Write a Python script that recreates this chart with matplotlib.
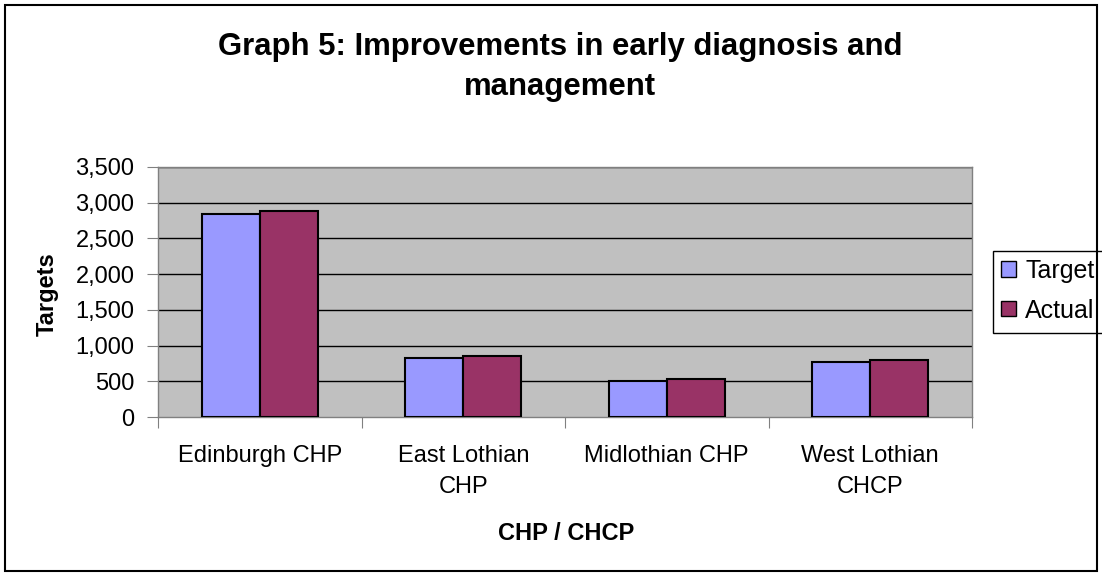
import matplotlib
matplotlib.use("Agg")
import matplotlib.pyplot as plt
import numpy as np
from matplotlib.patches import Rectangle, Patch

plt.rcParams['font.family'] = ['Liberation Sans', 'DejaVu Sans']

categories = ["Edinburgh CHP", "East Lothian\nCHP", "Midlothian CHP", "West Lothian\nCHCP"]
target = [2840, 825, 505, 775]
actual = [2890, 858, 528, 798]
yticks = [0, 500, 1000, 1500, 2000, 2500, 3000, 3500]
ytick_labels = ["0", "500", "1,000", "1,500", "2,000", "2,500", "3,000", "3,500"]

W, H = 1102, 576
fig = plt.figure(figsize=(W / 100, H / 100), dpi=100)
ax = fig.add_axes([158 / W, 1 - 417 / H, (972 - 158) / W, (417 - 167) / H])
ax.set_facecolor("#C0C0C0")

x = np.arange(len(categories))
bw = 0.285
ax.bar(x - bw / 2, target, bw, color="#9999FF", edgecolor="black", linewidth=1.5, label="Target", zorder=3)
ax.bar(x + bw / 2, actual, bw, color="#993366", edgecolor="black", linewidth=1.5, label="Actual", zorder=3)

ax.set_xlim(-0.5, len(categories) - 0.5)
ax.set_ylim(0, 3500)
ax.set_yticks(yticks)
ax.set_yticklabels(ytick_labels, fontsize=17)
for yv in yticks[1:]:
    ax.axhline(yv, color="black", linewidth=1, zorder=1)

ax.set_xticks(np.arange(len(categories) + 1) - 0.5)
ax.set_xticklabels([])
ax.set_xticks(x, minor=True)
ax.set_xticklabels(categories, minor=True, fontsize=17, linespacing=1.53)
ax.tick_params(axis="x", which="minor", length=0, pad=20)
ax.tick_params(axis="x", which="major", length=8, direction="out", color="#808080")
ax.tick_params(axis="y", length=8, direction="out", color="#808080", pad=9)

for s in ax.spines.values():
    s.set_color("#808080")
    s.set_linewidth(1)

fig.text(47 / W, 1 - 294 / H, "Targets", rotation=90, ha="center", va="center",
         fontsize=17, fontweight="bold")
fig.text(566 / W, 1 - 534 / H, "CHP / CHCP", ha="center", va="center",
         fontsize=17, fontweight="bold")

fig.text(560 / W, 1 - 67 / H, "Graph 5: Improvements in early diagnosis and\nmanagement",
         ha="center", va="center", fontsize=22.4, fontweight="bold", linespacing=1.47)

# legend box (extends past the right edge like the reference)
fig.patches.append(Rectangle((993 / W, 1 - 333 / H), 130 / W, 82 / H, transform=fig.transFigure,
                             fill=True, facecolor="white", edgecolor="black", linewidth=1, zorder=5))
handles = [Patch(facecolor="#9999FF", edgecolor="black", label="Target"),
           Patch(facecolor="#993366", edgecolor="black", label="Actual")]
leg = fig.legend(handles=handles, loc="upper left", bbox_to_anchor=(1001 / W, 1 - 259 / H),
                 fontsize=18, frameon=False,
                 handlelength=0.58, handleheight=0.58, handletextpad=0.38, borderpad=0,
                 labelspacing=0.62, borderaxespad=0)
leg.set_zorder(6)

fig.patches.append(Rectangle((5 / W, 5 / H), (W - 10) / W, (H - 10) / H, transform=fig.transFigure,
                             fill=False, edgecolor="black", linewidth=1.5, zorder=10))

fig.savefig("out.png", dpi=100)
